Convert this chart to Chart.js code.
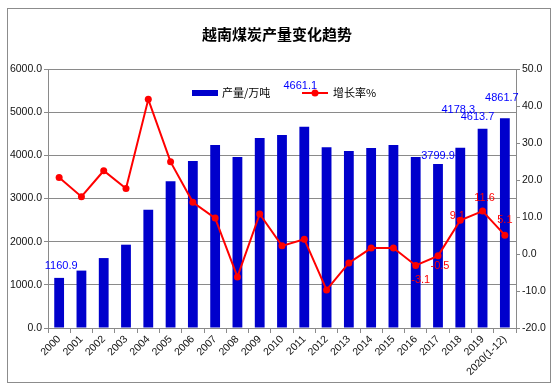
<!DOCTYPE html>
<html>
<head>
<meta charset="utf-8">
<script src="https://cdn.jsdelivr.net/npm/chart.js@4"></script>
<style>
  html, body { margin: 0; padding: 0; background: #fff; }
  #wrap { width: 555px; height: 388px; }
</style>
</head>
<body>
<div id="wrap"><canvas id="coalChart" width="555" height="388"></canvas></div>
<script>
  // categories and series
  var years = ['2000','2001','2002','2003','2004','2005','2006','2007','2008','2009','2010',
               '2011','2012','2013','2014','2015','2016','2017','2018','2019','2020(1-12)'];
  var output = [1160.9, 1330, 1620, 1930, 2740, 3400, 3870, 4240, 3960, 4400, 4470,
                4661.1, 4190, 4100, 4170, 4240, 3960, 3799.9, 4178.3, 4613.7, 4861.7];
  var growth = [20.7, 15.5, 22.5, 17.7, 41.8, 24.9, 14.0, 9.7, -6.2, 10.8, 2.2,
                4.0, -9.7, -2.4, 1.6, 1.6, -3.1, -0.5, 9.1, 11.6, 5.1];
  var outputLabelIdx = [0, 11, 17, 18, 19, 20];
  var growthLabelIdx = [16, 17, 18, 19, 20];

  var tickFont = { family: 'Liberation Sans', size: 10.5 };
  var gridCol = '#8a8a8a';

  // title, border and legend drawn straight onto the canvas
  var frame = {
    id: 'frame',
    beforeDraw: function (chart) {
      var c = chart.ctx;
      c.save();
      c.fillStyle = '#fff';
      c.fillRect(0, 0, chart.width, chart.height);
      c.strokeStyle = '#8c8c8c';
      c.lineWidth = 1;
      c.strokeRect(7.5, 8.5, 543, 374);
      c.restore();
    },
    afterDraw: function (chart) {
      var c = chart.ctx;
      c.save();
      c.fillStyle = '#000';
      c.font = 'bold 15px "Noto Sans CJK SC"';
      c.textAlign = 'center';
      c.textBaseline = 'middle';
      c.fillText('越南煤炭产量变化趋势', 277, 34);

      // legend
      c.font = '11px "Noto Sans CJK SC"';
      c.textAlign = 'left';
      c.fillStyle = '#0000cc';
      c.fillRect(192, 90, 26, 6);
      c.fillStyle = '#000';
      c.fillText('产量/万吨', 222, 93);
      c.strokeStyle = '#ff0000';
      c.lineWidth = 2;
      c.beginPath(); c.moveTo(302, 93); c.lineTo(328, 93); c.stroke();
      c.fillStyle = '#ff0000';
      c.beginPath(); c.arc(315, 93, 3.5, 0, Math.PI * 2); c.fill();
      c.fillStyle = '#000';
      c.fillText('增长率%', 333, 93);

      // value labels
      c.font = '11px "Liberation Sans"';
      c.textAlign = 'center';
      var barMeta = chart.getDatasetMeta(0);
      var barOff = { 0: [2, -12], 11: [-4, -41], 17: [0, -8], 18: [-2, -38], 19: [-5, -12], 20: [-3, -20] };
      c.fillStyle = '#0000ff';
      outputLabelIdx.forEach(function (i) {
        var el = barMeta.data[i];
        var o = barOff[i];
        c.fillText(output[i].toFixed(1), el.x + o[0], el.y + o[1]);
      });
      var lineMeta = chart.getDatasetMeta(1);
      var lineOff = { 16: [5, 14], 17: [2, 10], 18: [-3, -4], 19: [2, -13], 20: [0, -15] };
      c.fillStyle = '#ff0000';
      growthLabelIdx.forEach(function (i) {
        var el = lineMeta.data[i];
        var o = lineOff[i];
        c.fillText(growth[i].toFixed(1), el.x + o[0], el.y + o[1]);
      });
      c.restore();
    }
  };

  var ctx = document.getElementById('coalChart').getContext('2d');
  var coalChart = new Chart(ctx, {
    type: 'bar',
    data: {
      labels: years,
      datasets: [{
        label: '产量/万吨',
        data: output,
        backgroundColor: '#0000cc',
        barPercentage: 0.44,
        categoryPercentage: 1,
        yAxisID: 'y',
        order: 2
      }, {
        type: 'line',
        label: '增长率%',
        data: growth,
        borderColor: '#ff0000',
        backgroundColor: '#ff0000',
        borderWidth: 2,
        pointRadius: 3.5,
        pointBorderWidth: 0,
        tension: 0,
        yAxisID: 'y1',
        order: 1
      }]
    },
    plugins: [frame],
    options: {
      responsive: false,
      animation: false,
      layout: { padding: { top: 69, left: 0, right: 0, bottom: 0 } },
      plugins: {
        legend: { display: false },
        title: { display: false },
        tooltip: { enabled: false }
      },
      scales: {
        x: {
          grid: { display: true, offset: true, drawOnChartArea: false, tickLength: 5, color: gridCol },
          border: { color: gridCol },
          ticks: { font: tickFont, color: '#111', minRotation: 45, maxRotation: 45, padding: 0, autoSkip: false },
          afterFit: function (s) { s.height = 60; }
        },
        y: {
          position: 'left',
          min: 0, max: 6000,
          grid: { color: gridCol, tickLength: 4 },
          border: { color: gridCol },
          ticks: { stepSize: 1000, font: tickFont, color: '#111', padding: 2,
                   callback: function (v) { return v.toFixed(1); } },
          afterFit: function (s) { s.width = 48; }
        },
        y1: {
          position: 'right',
          min: -20, max: 50,
          grid: { drawOnChartArea: false, color: gridCol, tickLength: 4 },
          border: { color: gridCol },
          ticks: { stepSize: 10, font: tickFont, color: '#111', padding: 2,
                   callback: function (v) { return v.toFixed(1); } },
          afterFit: function (s) { s.width = 39; }
        }
      }
    }
  });
</script>
</body>
</html>
